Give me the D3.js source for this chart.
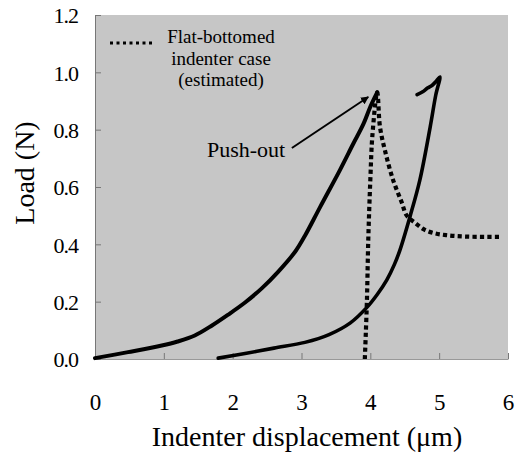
<!DOCTYPE html>
<html>
<head>
<meta charset="utf-8">
<script src="https://cdnjs.cloudflare.com/ajax/libs/d3/7.8.5/d3.min.js"></script>
<style>
  body { margin: 0; background: #fff; }
  svg { display: block; font-family: "Liberation Serif", "Times New Roman", serif; }
</style>
</head>
<body>
<div id="chart"></div>
<script>
// push-out loading curve (solid)
var pushX = [0, 0.48, 0.97, 1.2, 1.45, 1.70, 1.93, 2.18, 2.43, 2.66, 2.91, 3.05, 3.27, 3.56, 3.75, 3.90, 4.00, 4.10];
var pushY = [0.003, 0.024, 0.047, 0.061, 0.082, 0.117, 0.154, 0.197, 0.248, 0.304, 0.375, 0.43, 0.53, 0.66, 0.75, 0.82, 0.88, 0.93];

// second curve (solid)
var secondX = [1.79, 2.2, 2.6, 3.05, 3.4, 3.71, 3.95, 4.10, 4.24, 4.35, 4.43, 4.58, 4.72, 4.87, 4.95, 5.01, 4.96, 4.90, 4.83, 4.76, 4.68];
var secondY = [0.003, 0.02, 0.038, 0.058, 0.085, 0.126, 0.18, 0.225, 0.276, 0.33, 0.38, 0.50, 0.625, 0.81, 0.92, 0.984, 0.97, 0.955, 0.945, 0.932, 0.922];

// flat-bottomed indenter case, estimated (dotted)
var flatX = [3.92, 3.95, 3.97, 4.00, 4.03, 4.10, 4.14, 4.22, 4.33, 4.45, 4.53, 4.65, 4.78, 4.91, 5.1, 5.4, 5.89];
var flatY = [0.0, 0.2, 0.415, 0.625, 0.78, 0.93, 0.81, 0.72, 0.625, 0.55, 0.50, 0.475, 0.452, 0.44, 0.432, 0.427, 0.426];

var xTicks = [0, 1, 2, 3, 4, 5, 6];
var yTicks = [0, 0.2, 0.4, 0.6, 0.8, 1.0, 1.2];

var margin = {top: 15, right: 14, bottom: 99, left: 95},
  width = 522 - margin.left - margin.right,
  height = 458 - margin.top - margin.bottom;

var x = d3.scaleLinear().domain([0, 6]).range([0, width]);
var y = d3.scaleLinear().domain([0, 1.2]).range([height, 0]);

var svg = d3.select("#chart").append("svg")
  .attr("width", 522)
  .attr("height", 458);

var g = svg.append("g")
  .attr("transform", "translate(" + margin.left + "," + margin.top + ")");

svg.append("defs").append("marker")
  .attr("id", "arrow")
  .attr("viewBox", "0 0 10 10")
  .attr("refX", 9)
  .attr("refY", 5)
  .attr("markerWidth", 8)
  .attr("markerHeight", 8)
  .attr("markerUnits", "userSpaceOnUse")
  .attr("orient", "auto")
  .append("path")
  .attr("d", "M0,0 L10,5 L0,10 Z")
  .attr("fill", "#000");

g.append("rect")
  .attr("width", width)
  .attr("height", height)
  .attr("fill", "#c6c6c6");

var xAxis = d3.axisBottom(x).tickValues(xTicks).tickSizeInner(-6).tickSizeOuter(0).tickFormat(d3.format("d"));
var yAxis = d3.axisLeft(y).tickValues(yTicks).tickSizeInner(-6).tickSizeOuter(0).tickFormat(d3.format(".1f"));

var gx = g.append("g")
  .attr("transform", "translate(0," + height + ")")
  .call(xAxis)
  .attr("font-family", null)
  .attr("font-size", null);
gx.select(".domain").attr("stroke", "#999");
gx.selectAll(".tick line").attr("stroke", "#777");
gx.selectAll(".tick text")
  .attr("y", 51)
  .attr("dy", 0)
  .attr("fill", "#000")
  .style("font-size", "23px");

var gy = g.append("g").call(yAxis)
  .attr("font-family", null)
  .attr("font-size", null);
gy.select(".domain").attr("stroke", "#777");
gy.selectAll(".tick line").attr("stroke", "#777");
gy.selectAll(".tick text")
  .attr("x", -17)
  .attr("dy", "0.35em")
  .attr("fill", "#000")
  .style("font-size", "22px")
  .style("letter-spacing", "-1px");

var line = d3.line()
  .x(function(d) { return x(d[0]); })
  .y(function(d) { return y(d[1]); })
  .curve(d3.curveCatmullRom);

g.append("path")
  .datum(d3.zip(pushX, pushY))
  .attr("d", line)
  .attr("fill", "none")
  .attr("stroke", "#000")
  .attr("stroke-width", 4)
  .attr("stroke-linecap", "round")
  .attr("stroke-linejoin", "round");

g.append("path")
  .datum(d3.zip(secondX, secondY))
  .attr("d", line)
  .attr("fill", "none")
  .attr("stroke", "#000")
  .attr("stroke-width", 3.6)
  .attr("stroke-linecap", "round")
  .attr("stroke-linejoin", "round");

g.append("path")
  .datum(d3.zip(flatX, flatY))
  .attr("d", line)
  .attr("fill", "none")
  .attr("stroke", "#000")
  .attr("stroke-width", 4.2)
  .attr("stroke-dasharray", "4.2,3.2");

// push-out arrow
g.append("line")
  .attr("x1", x(2.86)).attr("y1", y(0.736))
  .attr("x2", x(3.97)).attr("y2", y(0.914))
  .attr("stroke", "#000")
  .attr("stroke-width", 2)
  .attr("marker-end", "url(#arrow)");

g.append("text")
  .attr("x", 112)
  .attr("y", 142)
  .style("font-size", "22px")
  .text("Push-out");

// legend
g.append("line")
  .attr("x1", 15).attr("x2", 60)
  .attr("y1", 28).attr("y2", 28)
  .attr("stroke", "#000")
  .attr("stroke-width", 3)
  .attr("stroke-dasharray", "3,3.5");

var legendLines = ["Flat-bottomed", "indenter case", "(estimated)"];
g.selectAll(".legend-text")
  .data(legendLines)
  .enter().append("text")
  .attr("class", "legend-text")
  .attr("x", 126)
  .attr("y", function(d, i) { return 28 + i * 21.5; })
  .attr("text-anchor", "middle")
  .style("font-size", "19px")
  .text(function(d) { return d; });

// axis titles
svg.append("text")
  .attr("x", 307)
  .attr("y", 446)
  .attr("text-anchor", "middle")
  .style("font-size", "28px")
  .text("Indenter displacement (\u03bcm)");

svg.append("text")
  .attr("transform", "translate(34,173) rotate(-90)")
  .attr("text-anchor", "middle")
  .style("font-size", "28px")
  .text("Load (N)");
</script>
</body>
</html>
